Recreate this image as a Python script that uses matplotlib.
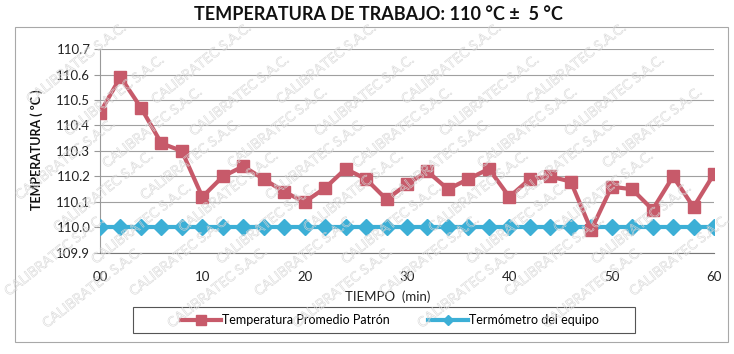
import matplotlib
matplotlib.use("Agg")
import matplotlib.pyplot as plt
import matplotlib.patheffects as pe
from matplotlib.patches import Rectangle
from matplotlib.lines import Line2D

# data (every 2 min)
tiempo = [0, 2, 4, 6, 8, 10, 12, 14, 16, 18, 20, 22, 24, 26, 28, 30,
          32, 34, 36, 38, 40, 42, 44, 46, 48, 50, 52, 54, 56, 58, 60]
patron = [110.45, 110.59, 110.47, 110.33, 110.30, 110.12, 110.20, 110.24,
          110.19, 110.14, 110.10, 110.155, 110.23, 110.19, 110.11, 110.17,
          110.22, 110.15, 110.19, 110.23, 110.12, 110.19, 110.20, 110.18,
          109.99, 110.16, 110.15, 110.07, 110.20, 110.08, 110.21]
equipo = [110.0, 110.0, 110.0, 110.0, 110.0, 110.0, 110.0, 110.0,
          110.0, 110.0, 110.0, 110.0, 110.0, 110.0, 110.0, 110.0,
          110.0, 110.0, 110.0, 110.0, 110.0, 110.0, 110.0, 110.0,
          110.0, 110.0, 110.0, 110.0, 110.0, 110.0, 110.0]
x_ticks = [0, 10, 20, 30, 40, 50, 60]
x_labels = ['00', '10', '20', '30', '40', '50', '60']
y_ticks = [109.9, 110.0, 110.1, 110.2, 110.3, 110.4, 110.5, 110.6, 110.7]

titulo = 'TEMPERATURA DE TRABAJO: 110 °C ±  5 °C'
serie1 = 'Temperatura Promedio Patrón'
serie2 = 'Termómetro del equipo'

plt.rcParams['font.family'] = ['Lato', 'DejaVu Sans']

W, H = 734, 354
rojo = '#C75a6a'
azul = '#3CAFD6'

fig = plt.figure(figsize=(W / 100, H / 100), dpi=100)
ax = fig.add_axes([100 / W, 1 - 253 / H, 614 / W, 204 / H])

ax.plot(tiempo, equipo, color=azul, lw=3, marker='D', markersize=8,
        markeredgecolor=azul, zorder=3)
ax.plot(tiempo, patron, color=rojo, lw=3, marker='s', markersize=9,
        markeredgecolor=rojo, zorder=4)

ax.set_xlim(0, 60)
ax.set_ylim(109.9, 110.7)
ax.set_xticks(x_ticks)
ax.set_xticklabels(x_labels)
ax.set_yticks(y_ticks)
ax.set_yticklabels(['%.1f' % v for v in y_ticks])
ax.tick_params(axis='x', length=0, pad=13, labelsize=9.5, colors='#222222')
ax.tick_params(axis='y', length=4, color='#999999', pad=3, labelsize=9.5,
               colors='#222222')
ax.grid(axis='y', color='#a0a0a0', lw=0.8)
ax.set_axisbelow(True)
for s in ['top', 'right']:
    ax.spines[s].set_visible(False)
ax.spines['left'].set_color('#999999')
ax.spines['bottom'].set_color('#777777')

# titles
fig.text(378 / W, 1 - 15 / H, titulo, ha='center', va='center',
         fontsize=13, fontweight='bold', color='#111111')
fig.text(37 / W, 1 - 150 / H, 'TEMPERATURA ( ºC )', rotation=90,
         ha='center', va='center', fontsize=9, fontweight='bold',
         color='#111111')
fig.text(388 / W, 1 - 297 / H, 'TIEMPO  (min)', ha='center', va='center',
         fontsize=9.5, color='#222222')

# chart border and legend box
fig.patches.append(Rectangle((15 / W, 1 - 342 / H), 713 / W, 315 / H,
                             transform=fig.transFigure, fill=False,
                             edgecolor='#a8a8a8', lw=0.8))
fig.patches.append(Rectangle((133 / W, 1 - 333 / H), 502 / W, 26 / H,
                             transform=fig.transFigure, fill=False,
                             edgecolor='#555555', lw=0.8))
handles = [Line2D([], [], color=rojo, lw=3, marker='s', markersize=7),
           Line2D([], [], color=azul, lw=3, marker='D', markersize=5)]
fig.legend(handles, [serie1, serie2], loc='center', ncol=2,
           bbox_to_anchor=(390 / W, 1 - 320 / H), frameon=False,
           fontsize=9, handlelength=3.2, handletextpad=0.1,
           columnspacing=3.0)

# CALIBRATEC watermark, only where the stamp fits inside the page
for r in range(-6, 14):
    for c in range(-2, 10):
        px = c * 125 + r * 38
        py = r * 32
        if 48 < px < W - 48 and 40 < py < H - 40:
            fig.text(px / W, 1 - py / H, 'CALIBRATEC S.A.C.', rotation=38,
                     fontsize=10, color=(1, 1, 1, 0), ha='center',
                     va='center', zorder=10,
                     path_effects=[pe.Stroke(linewidth=0.4,
                                             foreground='#d6d6d6')])

fig.savefig('out.png', dpi=100)
